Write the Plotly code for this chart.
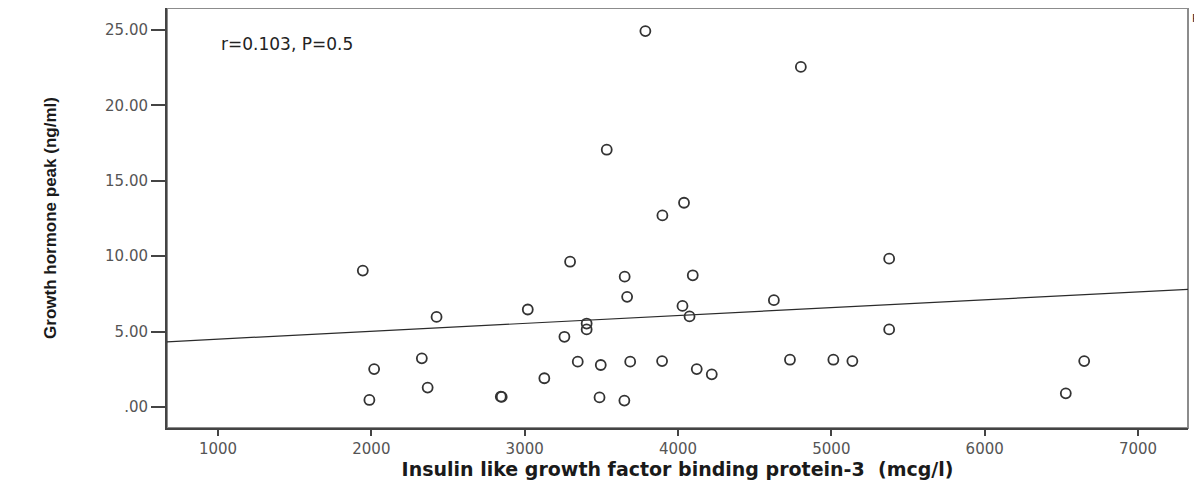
import plotly.graph_objects as go

# IGFBP-3 (mcg/l) vs peak growth hormone (ng/ml)
igfbp3 = [1944, 2018, 1987, 2329, 2367, 2425, 2844, 2850, 3020, 3128,
          3259, 3296, 3346, 3404, 3404, 3496, 3488, 3535, 3650, 3652,
          3668, 3688, 3787, 3896, 3898, 4039, 4029, 4096, 4075, 4122,
          4220, 4625, 4730, 4801, 5013, 5137, 5377, 5377, 6529, 6649]
gh_peak = [9.04, 2.51, 0.46, 3.22, 1.28, 5.97, 0.68, 0.66, 6.46, 1.90,
           4.65, 9.63, 3.00, 5.53, 5.14, 2.78, 0.63, 17.06, 0.42, 8.64,
           7.30, 3.00, 24.93, 3.04, 12.70, 13.54, 6.70, 8.73, 6.00, 2.51,
           2.16, 7.08, 3.13, 22.55, 3.13, 3.04, 9.83, 5.14, 0.90, 3.04]

# fitted line as drawn (intercept, slope)
fit_intercept = 3.97
fit_slope = 0.0005226

x_range = [667, 7326]
y_range = [-1.40, 26.46]
x_ticks = [1000, 2000, 3000, 4000, 5000, 6000, 7000]
y_ticks = [0, 5, 10, 15, 20, 25]
y_ticktext = [f"{v:.2f}".lstrip("0") for v in y_ticks]

stats_label = "r=0.103, P=0.5"

fig = go.Figure()

fig.add_trace(go.Scatter(
    x=x_range,
    y=[fit_intercept + fit_slope * v for v in x_range],
    mode="lines",
    line=dict(color="#2b2b2b", width=1.2),
    hoverinfo="skip",
    showlegend=False,
))

fig.add_trace(go.Scatter(
    x=igfbp3,
    y=gh_peak,
    mode="markers",
    marker=dict(symbol="circle-open", size=10, color="#333333",
                line=dict(width=1.8, color="#333333")),
    showlegend=False,
))

# grey frame on top / right, dark axes on left / bottom
fig.add_shape(type="rect", xref="paper", yref="paper", x0=0, x1=1, y0=0, y1=1,
              line=dict(color="#8c8c8c", width=2), layer="below")

fig.add_annotation(x=0.0505, y=0.915, xref="paper", yref="paper",
                   text=stats_label, showarrow=False, xanchor="left", yanchor="middle",
                   font=dict(family="DejaVu Sans", size=17, color="#222222"))
fig.add_annotation(x=1.002, y=0.975, xref="paper", yref="paper",
                   text="R", showarrow=False, xanchor="left", yanchor="middle",
                   font=dict(family="DejaVu Sans", size=11, color="#222222"))

fig.update_xaxes(
    range=x_range,
    tickvals=x_ticks,
    ticks="outside", ticklen=6, tickwidth=2, tickcolor="#444444",
    showline=True, linecolor="#444444", linewidth=2,
    showgrid=False, zeroline=False,
    tickfont=dict(family="DejaVu Sans", size=15, color="#555555"),
    title=dict(text="Insulin like growth factor binding protein-3  (mcg/l)",
               font=dict(family="DejaVu Sans", size=19, color="#1a1a1a", weight="bold"),
               standoff=4),
)
fig.update_yaxes(
    range=y_range,
    tickvals=y_ticks,
    ticktext=y_ticktext,
    ticks="outside", ticklen=14, tickwidth=2, tickcolor="#444444",
    showline=True, linecolor="#444444", linewidth=2,
    showgrid=False, zeroline=False,
    tickfont=dict(family="DejaVu Sans", size=15, color="#555555"),
    title=dict(text="Growth hormone peak (ng/ml)",
               font=dict(family="Liberation Sans", size=17,
                         color="#1a1a1a", weight="bold"),
               standoff=44),
)

# page body adds an 8px offset, so the figure is trimmed to fit the window
fig.update_layout(
    width=1194,
    height=479,
    margin=dict(l=159, r=14, t=0, b=59),
    paper_bgcolor="white",
    plot_bgcolor="white",
)

fig.write_html("out.html")
